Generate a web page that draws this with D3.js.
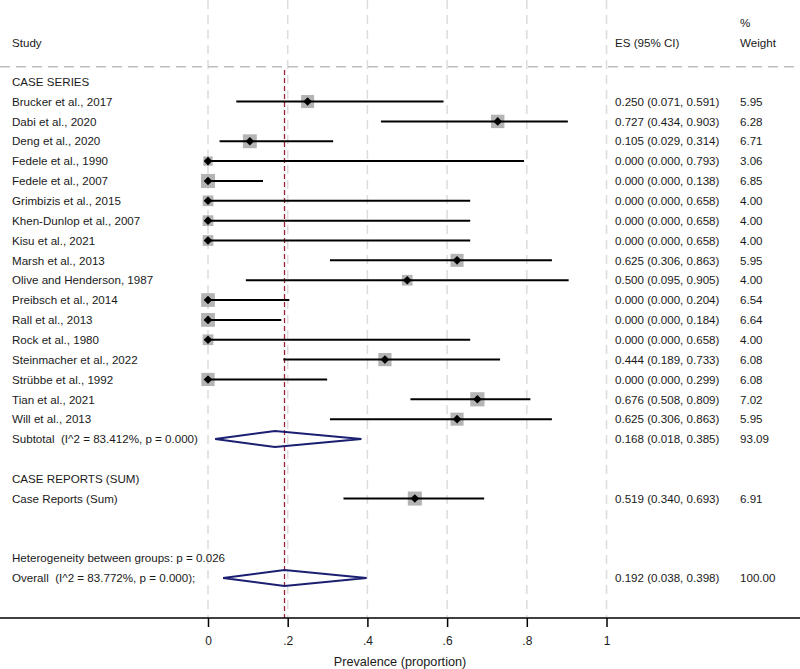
<!DOCTYPE html>
<html>
<head>
<meta charset="utf-8">
<script src="https://cdn.jsdelivr.net/npm/d3@7"></script>
<style>
  body { margin: 0; background: #fff; }
  svg { display: block; font-family: "Liberation Sans", Arial, sans-serif; }
  text { fill: #1a1a1a; white-space: pre; }
</style>
</head>
<body>
<svg id="chart" width="800" height="669"></svg>
<script>
// study rows (case series)
var studies = ['Brucker et al., 2017', 'Dabi et al., 2020', 'Deng et al., 2020', 'Fedele et al., 1990',
  'Fedele et al., 2007', 'Grimbizis et al., 2015', 'Khen-Dunlop et al., 2007', 'Kisu et al., 2021',
  'Marsh et al., 2013', 'Olive and Henderson, 1987', 'Preibsch et al., 2014', 'Rall et al., 2013',
  'Rock et al., 1980', 'Steinmacher et al., 2022', 'Strübbe et al., 1992', 'Tian et al., 2021', 'Will et al., 2013'];
var es    = [0.250, 0.727, 0.105, 0.000, 0.000, 0.000, 0.000, 0.000, 0.625, 0.500, 0.000, 0.000, 0.000, 0.444, 0.000, 0.676, 0.625];
var lo    = [0.071, 0.434, 0.029, 0.000, 0.000, 0.000, 0.000, 0.000, 0.306, 0.095, 0.000, 0.000, 0.000, 0.189, 0.000, 0.508, 0.306];
var hi    = [0.591, 0.903, 0.314, 0.793, 0.138, 0.658, 0.658, 0.658, 0.863, 0.905, 0.204, 0.184, 0.658, 0.733, 0.299, 0.809, 0.863];
var wts   = [5.95, 6.28, 6.71, 3.06, 6.85, 4.00, 4.00, 4.00, 5.95, 4.00, 6.54, 6.64, 4.00, 6.08, 6.08, 7.02, 5.95];

// case reports
var reportEs = [0.519], reportLo = [0.340], reportHi = [0.693], reportWt = [6.91];

// pooled estimates [es, lo, hi, weight]
var subtotal = [0.168, 0.018, 0.385, 93.09];
var overall  = [0.192, 0.038, 0.398, 100.00];
var subtotalLabel = 'Subtotal  (I^2 = 83.412%, p = 0.000)';
var overallLabel  = 'Overall  (I^2 = 83.772%, p = 0.000);';
var hetLabel      = 'Heterogeneity between groups: p = 0.026';

var ticks = [0, 0.2, 0.4, 0.6, 0.8, 1];
var tickLabels = ['0', '.2', '.4', '.6', '.8', '1'];

var svg = d3.select('#chart');
var W = 800, axisY = 618, fs = 11.6;

var x = d3.scaleLinear().domain([0, 1]).range([208, 606.5]);
// row index -> y centre
var y = d3.scaleLinear().domain([0, 1]).range([81.7, 81.7 + 19.85]);
var boxSide = function (w) { return 5.35 * Math.sqrt(w); };
var fmt = d3.format('.3f');
var ciText = function (e, l, h) { return fmt(e) + ' (' + fmt(l) + ', ' + fmt(h) + ')'; };

// build rows
var rows = [];
rows.push({ label: 'CASE SERIES', row: 0 });
studies.forEach(function (s, i) {
  rows.push({ label: s, row: i + 1, es: es[i], lo: lo[i], hi: hi[i], w: wts[i], type: 'study' });
});
rows.push({ label: subtotalLabel, row: 18, es: subtotal[0], lo: subtotal[1], hi: subtotal[2], w: subtotal[3], type: 'pool' });
rows.push({ label: 'CASE REPORTS (SUM)', row: 20 });
rows.push({ label: 'Case Reports (Sum)', row: 21, es: reportEs[0], lo: reportLo[0], hi: reportHi[0], w: reportWt[0], type: 'study' });
rows.push({ label: hetLabel, row: 24 });
rows.push({ label: overallLabel, row: 25, es: overall[0], lo: overall[1], hi: overall[2], w: overall[3], type: 'pool' });

// vertical grid
svg.append('g').selectAll('line').data(ticks).enter().append('line')
  .attr('x1', function (d) { return x(d); }).attr('x2', function (d) { return x(d); })
  .attr('y1', 0).attr('y2', axisY)
  .attr('stroke', '#dcdcdc').attr('stroke-width', 1.5).attr('stroke-dasharray', '9,6');

// header separator
svg.append('line').attr('x1', 0).attr('x2', W).attr('y1', 66.7).attr('y2', 66.7)
  .attr('stroke', '#bdbdbd').attr('stroke-width', 1.5).attr('stroke-dasharray', '10,6');

// headers
svg.append('text').attr('x', 12).attr('y', 46.5).attr('font-size', fs).text('Study');
svg.append('text').attr('x', 615).attr('y', 46.5).attr('font-size', fs).text('ES (95% CI)');
svg.append('text').attr('x', 740).attr('y', 26.5).attr('font-size', fs).text('%');
svg.append('text').attr('x', 740).attr('y', 46.5).attr('font-size', fs).text('Weight');

// pooled-effect reference line
svg.append('line').attr('x1', x(overall[0])).attr('x2', x(overall[0]))
  .attr('y1', 70).attr('y2', axisY)
  .attr('stroke', '#9b2335').attr('stroke-width', 1.3).attr('stroke-dasharray', '5,3');

var studyRows = rows.filter(function (r) { return r.type === 'study'; });
var poolRows = rows.filter(function (r) { return r.type === 'pool'; });

// boxes
svg.append('g').selectAll('rect').data(studyRows).enter().append('rect')
  .attr('x', function (d) { return x(d.es) - boxSide(d.w) / 2; })
  .attr('y', function (d) { return y(d.row) - boxSide(d.w) / 2; })
  .attr('width', function (d) { return boxSide(d.w); })
  .attr('height', function (d) { return boxSide(d.w); })
  .attr('fill', '#b4b4b4');

// CI lines
svg.append('g').selectAll('line').data(studyRows).enter().append('line')
  .attr('x1', function (d) { return x(d.lo); }).attr('x2', function (d) { return x(d.hi); })
  .attr('y1', function (d) { return y(d.row); }).attr('y2', function (d) { return y(d.row); })
  .attr('stroke', '#000').attr('stroke-width', 2);

// point markers
svg.append('g').selectAll('path').data(studyRows).enter().append('path')
  .attr('d', function (d) {
    var cx = x(d.es), cy = y(d.row), s = 4.3;
    return 'M' + (cx - s) + ',' + cy + 'L' + cx + ',' + (cy - s) + 'L' + (cx + s) + ',' + cy + 'L' + cx + ',' + (cy + s) + 'Z';
  })
  .attr('fill', '#000');

// pooled diamonds
svg.append('g').selectAll('path').data(poolRows).enter().append('path')
  .attr('d', function (d) {
    var cy = y(d.row), h = 8;
    return 'M' + x(d.lo) + ',' + cy + 'L' + x(d.es) + ',' + (cy - h) + 'L' + x(d.hi) + ',' + cy + 'L' + x(d.es) + ',' + (cy + h) + 'Z';
  })
  .attr('fill', 'none').attr('stroke', '#1a1f71').attr('stroke-width', 2);

// labels
svg.append('g').selectAll('text').data(rows).enter().append('text')
  .attr('x', 12).attr('y', function (d) { return y(d.row) + 4.2; })
  .attr('font-size', fs).text(function (d) { return d.label; });

var valRows = rows.filter(function (r) { return r.type; });
svg.append('g').selectAll('text').data(valRows).enter().append('text')
  .attr('x', 615).attr('y', function (d) { return y(d.row) + 4.2; })
  .attr('font-size', fs).text(function (d) { return ciText(d.es, d.lo, d.hi); });
svg.append('g').selectAll('text').data(valRows).enter().append('text')
  .attr('x', 740).attr('y', function (d) { return y(d.row) + 4.2; })
  .attr('font-size', fs).text(function (d) { return d.w.toFixed(2); });

// axis
svg.append('line').attr('x1', 0).attr('x2', W).attr('y1', axisY).attr('y2', axisY)
  .attr('stroke', '#000').attr('stroke-width', 1.5);
var axis = d3.axisBottom(x).tickValues(ticks).tickSize(9).tickPadding(9)
  .tickFormat(function (d, i) { return tickLabels[i]; });
var gAx = svg.append('g').attr('transform', 'translate(0,' + axisY + ')').call(axis);
gAx.select('.domain').remove();
gAx.selectAll('.tick line').attr('stroke', '#000').attr('stroke-width', 1.5);
gAx.selectAll('.tick text').attr('font-size', 12).attr('font-family', '"Liberation Sans", Arial, sans-serif').attr('fill', '#1a1a1a');

svg.append('text').attr('x', 400).attr('y', 665.5).attr('text-anchor', 'middle')
  .attr('font-size', 12.7).text('Prevalence (proportion)');
</script>
</body>
</html>
